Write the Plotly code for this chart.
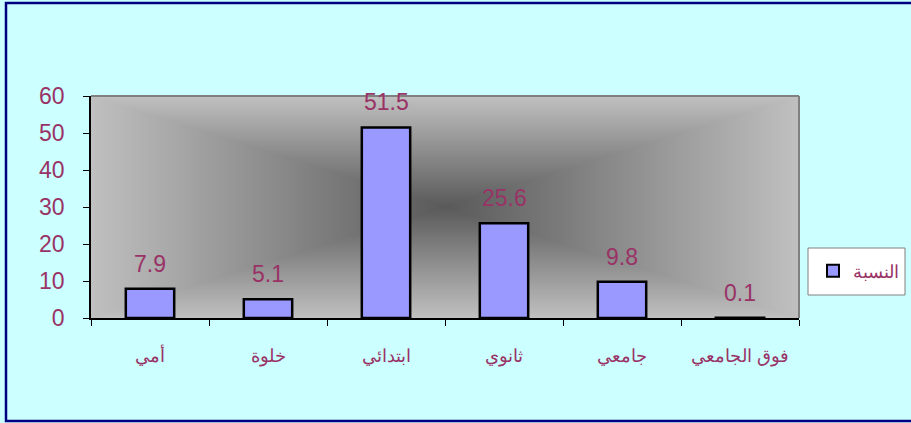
import base64
import struct
import zlib

import numpy as np
import plotly.graph_objects as go

# ---- data ----
categories = ["أمي", "خلوة", "ابتدائي", "ثانوي", "جامعي", "فوق الجامعي"]
values = [7.9, 5.1, 51.5, 25.6, 9.8, 0.1]
series_name = "النسبة"
y_ticks = [0, 10, 20, 30, 40, 50, 60]

TEXT_COLOR = "#993366"
BAR_COLOR = "#9999FF"
BG_COLOR = "#CCFFFF"


# ---- background "from centre" gradient as a PNG ----
def gradient_png(w, h, dark=90, light=192):
    xs = np.abs(np.linspace(-1, 1, w))
    ys = np.abs(np.linspace(-1, 1, h))
    t = np.maximum(xs[None, :], ys[:, None])
    g = (dark + (light - dark) * t).astype(np.uint8)
    rgb = np.stack([g, g, g], axis=-1)
    raw = b"".join(b"\x00" + rgb[r].tobytes() for r in range(h))

    def chunk(tag, data):
        c = struct.pack(">I", len(data)) + tag + data
        return c + struct.pack(">I", zlib.crc32(tag + data) & 0xFFFFFFFF)

    png = b"\x89PNG\r\n\x1a\n"
    png += chunk(b"IHDR", struct.pack(">IIBBBBB", w, h, 8, 2, 0, 0, 0))
    png += chunk(b"IDAT", zlib.compress(raw, 9))
    png += chunk(b"IEND", b"")
    return "data:image/png;base64," + base64.b64encode(png).decode()


W, H = 911, 423
L, R, T, B = 91, 112, 96, 105
pw, ph = W - L - R, H - T - B

fig = go.Figure()
fig.add_trace(go.Bar(
    x=categories, y=values, name=series_name,
    marker=dict(color=BAR_COLOR, line=dict(color="black", width=2.5)),
    width=0.41,
))

for c, v in zip(categories, values):
    fig.add_annotation(x=c, y=v, text=f"{v}", showarrow=False, yshift=25,
                       font=dict(family="Arial", size=23, color=TEXT_COLOR))

fig.add_layout_image(dict(
    source=gradient_png(pw, ph), xref="x domain", yref="y domain",
    x=0, y=1, sizex=1, sizey=1, sizing="stretch", xanchor="left",
    yanchor="top", layer="below",
))


def px_x(px):
    return (px - L) / pw


def px_y(py):
    return (H - B - py) / ph


shapes = [
    # top and right gray borders of the plot area
    dict(type="line", xref="paper", yref="paper", x0=0, x1=1, y0=1, y1=1,
         line=dict(color="#808080", width=2)),
    dict(type="line", xref="paper", yref="paper", x0=1, x1=1, y0=0, y1=1,
         line=dict(color="#808080", width=2)),
    # outer navy frame
    dict(type="rect", xref="paper", yref="paper",
         x0=px_x(6), x1=px_x(913), y0=px_y(421), y1=px_y(3),
         line=dict(color="#000080", width=2.5), layer="below"),
    # legend box
    dict(type="rect", xref="paper", yref="paper",
         x0=px_x(808), x1=px_x(905), y0=px_y(295), y1=px_y(248),
         line=dict(color="#808080", width=1), fillcolor="white",
         layer="above"),
]

fig.update_layout(
    width=W, height=H,
    margin=dict(l=L, r=R, t=T, b=B, pad=0, autoexpand=False),
    paper_bgcolor=BG_COLOR,
    plot_bgcolor="rgba(0,0,0,0)",
    shapes=shapes,
    showlegend=True,
    legend=dict(
        xref="container", yref="container",
        x=813 / W, y=1 - 271 / H, xanchor="left", yanchor="middle",
        bgcolor="rgba(0,0,0,0)", borderwidth=0,
        font=dict(family="Arial", size=18, color=TEXT_COLOR),
        itemsizing="constant",
    ),
    bargap=0.59,
    xaxis=dict(
        type="category", showgrid=False, zeroline=False, automargin=False,
        showline=True, linecolor="black", linewidth=1.5,
        ticks="outside", tickson="boundaries", ticklen=6, tickcolor="black",
        tickfont=dict(family="Arial", size=18, color=TEXT_COLOR),
        ticklabelstandoff=21,
    ),
    yaxis=dict(
        range=[0, 60], tickvals=y_ticks, showgrid=False, zeroline=False,
        automargin=False,
        showline=True, linecolor="black", linewidth=1.5,
        ticks="outside", ticklen=6, tickcolor="black",
        tickfont=dict(family="Arial", size=23, color=TEXT_COLOR),
        ticklabelstandoff=14,
    ),
)

fig.write_html("out.html")
